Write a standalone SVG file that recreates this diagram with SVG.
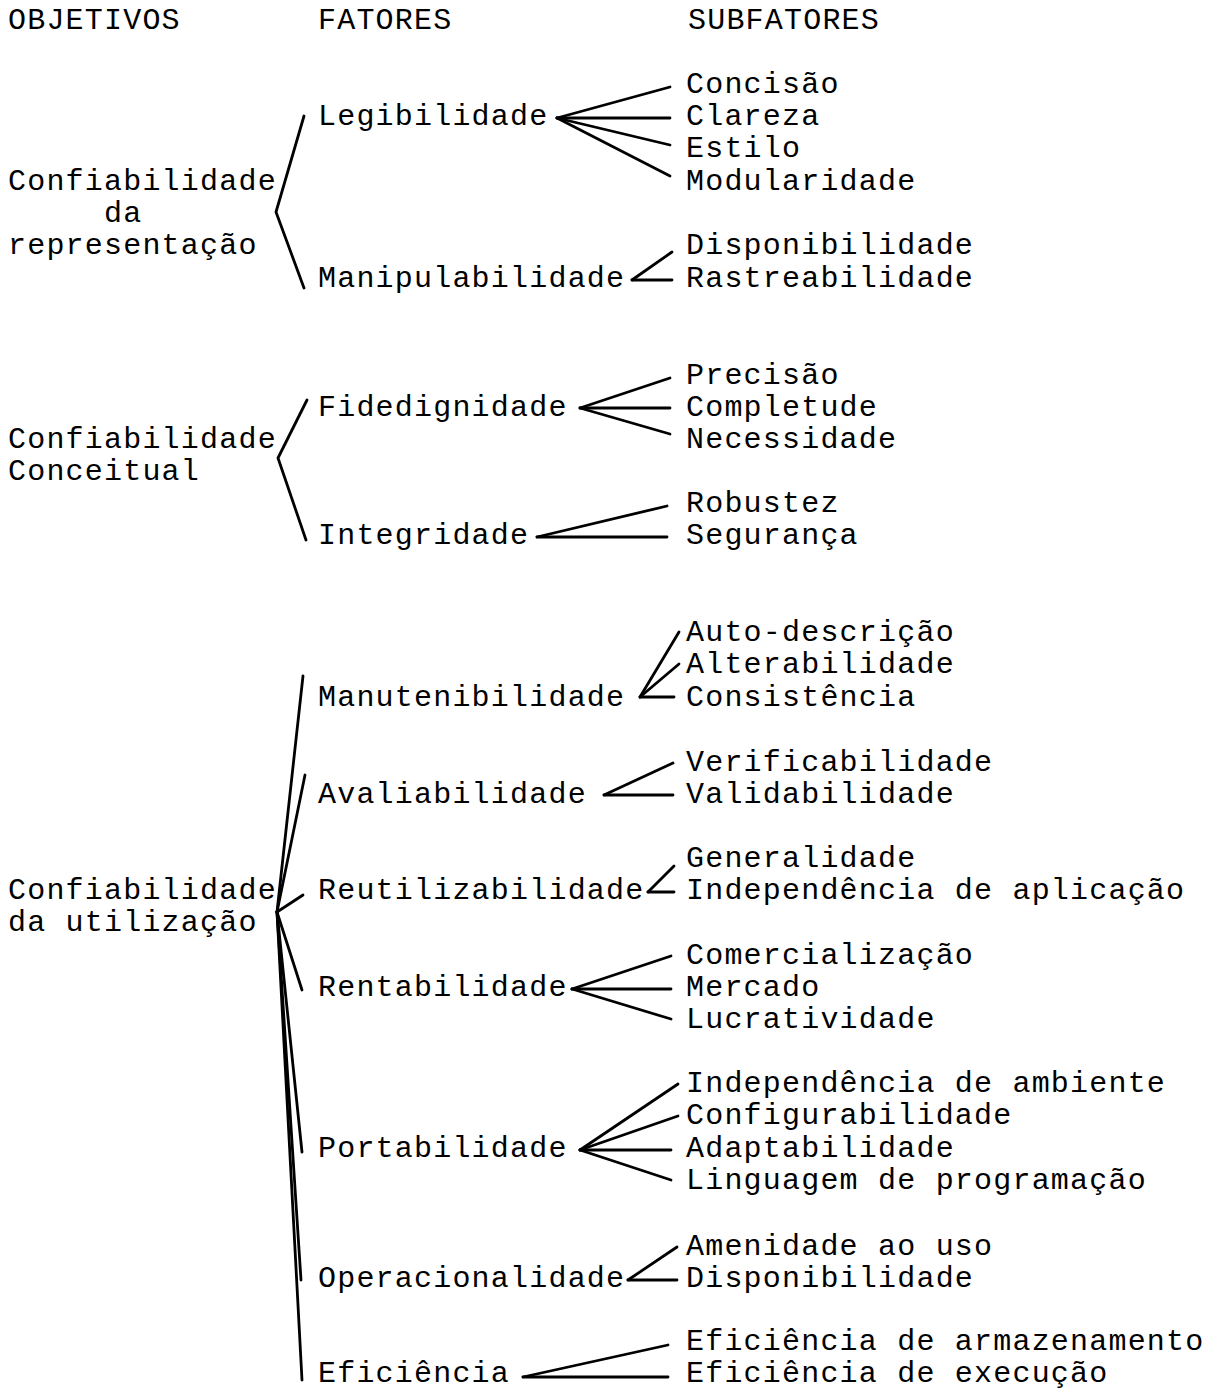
<svg xmlns="http://www.w3.org/2000/svg" width="1219" height="1389" viewBox="0 0 1219 1389">
<style>
text{font-family:"Liberation Mono","Courier New",monospace;font-size:30px;letter-spacing:1.2px;fill:#000}
.c line,.c polyline{stroke:#000;stroke-width:2.8;fill:none;stroke-linecap:round;stroke-linejoin:round}
</style>
<rect width="1219" height="1389" fill="#fff"/>
<g id="headers">
<text x="8" y="29">OBJETIVOS</text>
<text x="318" y="29">FATORES</text>
<text x="688" y="29">SUBFATORES</text>
</g>
<g id="obj-representacao">
<text x="8" y="190">Confiabilidade</text>
<text x="104" y="222">da</text>
<text x="8" y="254">representação</text>
</g>
<g id="obj-conceitual">
<text x="8" y="448">Confiabilidade</text>
<text x="8" y="480">Conceitual</text>
</g>
<g id="obj-utilizacao">
<text x="8" y="899">Confiabilidade</text>
<text x="8" y="931">da utilização</text>
</g>
<g id="fatores">
<text id="legibilidade" x="318" y="125">Legibilidade</text>
<text id="manipulabilidade" x="318" y="287">Manipulabilidade</text>
<text id="fidedignidade" x="318" y="416">Fidedignidade</text>
<text id="integridade" x="318" y="544">Integridade</text>
<text id="manutenibilidade" x="318" y="706">Manutenibilidade</text>
<text id="avaliabilidade" x="318" y="803">Avaliabilidade</text>
<text id="reutilizabilidade" x="318" y="899">Reutilizabilidade</text>
<text id="rentabilidade" x="318" y="996">Rentabilidade</text>
<text id="portabilidade" x="318" y="1157">Portabilidade</text>
<text id="operacionalidade" x="318" y="1287">Operacionalidade</text>
<text id="eficiencia" x="318" y="1382">Eficiência</text>
</g>
<g id="subfatores">
<text x="686" y="93">Concisão</text>
<text x="686" y="125">Clareza</text>
<text x="686" y="157">Estilo</text>
<text x="686" y="190">Modularidade</text>
<text x="686" y="254">Disponibilidade</text>
<text x="686" y="287">Rastreabilidade</text>
<text x="686" y="384">Precisão</text>
<text x="686" y="416">Completude</text>
<text x="686" y="448">Necessidade</text>
<text x="686" y="512">Robustez</text>
<text x="686" y="544">Segurança</text>
<text x="686" y="641">Auto-descrição</text>
<text x="686" y="673">Alterabilidade</text>
<text x="686" y="706">Consistência</text>
<text x="686" y="771">Verificabilidade</text>
<text x="686" y="803">Validabilidade</text>
<text x="686" y="867">Generalidade</text>
<text x="686" y="899">Independência de aplicação</text>
<text x="686" y="964">Comercialização</text>
<text x="686" y="996">Mercado</text>
<text x="686" y="1028">Lucratividade</text>
<text x="686" y="1092">Independência de ambiente</text>
<text x="686" y="1124">Configurabilidade</text>
<text x="686" y="1157">Adaptabilidade</text>
<text x="686" y="1189">Linguagem de programação</text>
<text x="686" y="1255">Amenidade ao uso</text>
<text x="686" y="1287">Disponibilidade</text>
<text x="686" y="1350">Eficiência de armazenamento</text>
<text x="686" y="1382">Eficiência de execução</text>
</g>
<g id="connectors" class="c">
<polyline points="304,116 276,212 304,288"/>
<line x1="557" y1="118" x2="670" y2="87"/>
<line x1="557" y1="118" x2="670" y2="118"/>
<line x1="557" y1="118" x2="670" y2="145"/>
<line x1="557" y1="118" x2="670" y2="176"/>
<line x1="632" y1="280" x2="672" y2="252"/>
<line x1="632" y1="280" x2="672" y2="280"/>
<polyline points="307,400 278,458 306,540"/>
<line x1="580" y1="408" x2="670" y2="378"/>
<line x1="580" y1="408" x2="670" y2="408"/>
<line x1="580" y1="408" x2="670" y2="434"/>
<line x1="537" y1="537" x2="667" y2="506"/>
<line x1="537" y1="537" x2="667" y2="537"/>
<line x1="277" y1="912" x2="303" y2="676"/>
<line x1="277" y1="912" x2="305" y2="775"/>
<line x1="277" y1="912" x2="303" y2="895"/>
<line x1="277" y1="912" x2="302" y2="990"/>
<line x1="277" y1="912" x2="302" y2="1152"/>
<line x1="277" y1="912" x2="301" y2="1280"/>
<line x1="277" y1="912" x2="302" y2="1380"/>
<line x1="640" y1="697" x2="679" y2="632"/>
<line x1="640" y1="697" x2="679" y2="664"/>
<line x1="640" y1="697" x2="674" y2="697"/>
<line x1="604" y1="795" x2="673" y2="763"/>
<line x1="604" y1="795" x2="673" y2="795"/>
<line x1="648" y1="892" x2="674" y2="866"/>
<line x1="648" y1="892" x2="674" y2="892"/>
<line x1="572" y1="989" x2="671" y2="956"/>
<line x1="572" y1="989" x2="671" y2="989"/>
<line x1="572" y1="989" x2="671" y2="1019"/>
<line x1="580" y1="1150" x2="678" y2="1084"/>
<line x1="580" y1="1150" x2="678" y2="1116"/>
<line x1="580" y1="1150" x2="671" y2="1150"/>
<line x1="580" y1="1150" x2="671" y2="1180"/>
<line x1="628" y1="1280" x2="677" y2="1247"/>
<line x1="628" y1="1280" x2="677" y2="1280"/>
<line x1="523" y1="1377" x2="668" y2="1345"/>
<line x1="523" y1="1377" x2="668" y2="1377"/>
</g>
</svg>
